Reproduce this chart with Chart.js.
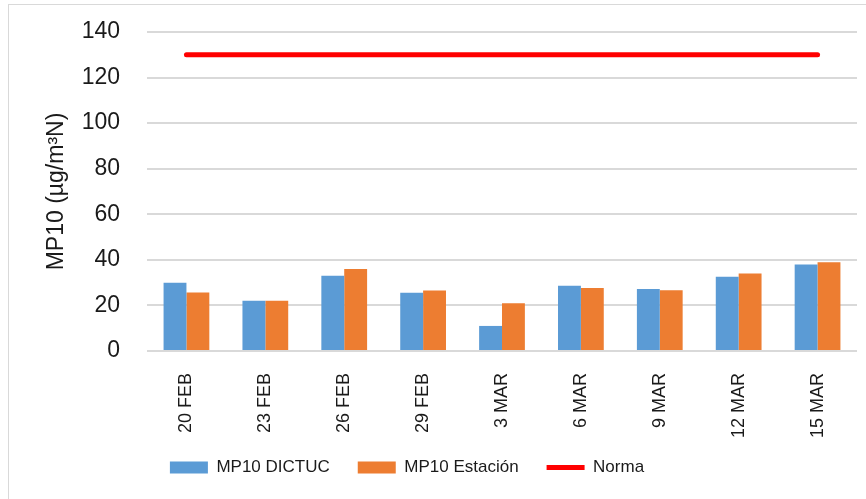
<!DOCTYPE html>
<html lang="es">
<head>
    <meta charset="UTF-8">
    <title>MP10</title>
    <script src="https://cdn.jsdelivr.net/npm/chart.js"></script>
    <style>
        body {
            margin: 0;
            background: #fff;
            font-family: "Liberation Sans", Arial, sans-serif;
        }

        .frame {
            position: absolute;
            left: 8px;
            top: 4px;
            width: 900px;
            height: 520px;
            border: 1px solid #d9d9d9;
        }

        .chart-container {
            position: absolute;
            left: 0;
            top: 0;
            width: 866px;
            height: 499px;
        }
    </style>
</head>
<body>
<div class="frame"></div>
<div class="chart-container">
    <canvas id="chart" width="866" height="499"></canvas>
</div>

<script>
    // Datos
    const fechas = ['20 FEB', '23 FEB', '26 FEB', '29 FEB', '3 MAR', '6 MAR', '9 MAR', '12 MAR', '15 MAR'];
    const mp10Dictuc = [30, 22, 33, 25.6, 11, 28.6, 27.2, 32.6, 38];
    const mp10Estacion = [25.7, 22, 36, 26.6, 21, 27.6, 26.7, 34, 39];
    const norma = [130, 130, 130, 130, 130, 130, 130, 130, 130];

    const FONT = '"Liberation Sans", Arial, sans-serif';
    const TEXT = '#1a1a1a';

    // mueve la leyenda un poco a la izquierda y arriba, como en el original
    const legendShift = {
        id: 'legendShift',
        afterLayout(chart) {
            chart.legend.left -= 41;
            chart.legend.right -= 41;
            chart.legend.top -= 6;
            chart.legend.bottom -= 6;
        }
    };

    const ctx = document.getElementById('chart').getContext('2d');
    new Chart(ctx, {
        type: 'bar',
        data: {
            labels: fechas,
            datasets: [
                {
                    label: 'MP10 DICTUC',
                    data: mp10Dictuc,
                    backgroundColor: '#5B9BD5',
                    borderWidth: 0,
                    pointStyle: 'rect',
                    categoryPercentage: 0.58,
                    barPercentage: 1
                },
                {
                    label: 'MP10 Estación',
                    data: mp10Estacion,
                    backgroundColor: '#ED7D31',
                    borderWidth: 0,
                    pointStyle: 'rect',
                    categoryPercentage: 0.58,
                    barPercentage: 1
                },
                {
                    type: 'line',
                    label: 'Norma',
                    data: norma,
                    borderColor: '#FF0000',
                    backgroundColor: '#FF0000',
                    borderWidth: 5,
                    borderCapStyle: 'round',
                    pointRadius: 0,
                    pointStyle: 'line',
                    fill: false
                }
            ]
        },
        options: {
            responsive: false,
            animation: false,
            layout: {
                padding: {left: 39, right: 9, top: 32, bottom: 7}
            },
            plugins: {
                tooltip: {enabled: false},
                legend: {
                    position: 'bottom',
                    labels: {
                        usePointStyle: true,
                        pointStyleWidth: 38,
                        boxHeight: 12,
                        padding: 28,
                        color: TEXT,
                        font: {family: FONT, size: 17}
                    }
                }
            },
            scales: {
                x: {
                    grid: {display: false},
                    border: {display: false},
                    afterFit(scale) {
                        scale.height = 86;
                    },
                    ticks: {
                        minRotation: 90,
                        maxRotation: 90,
                        autoSkip: false,
                        padding: 14,
                        color: TEXT,
                        font: {family: FONT, size: 18}
                    }
                },
                y: {
                    min: 0,
                    max: 140,
                    border: {display: false},
                    grid: {color: '#d9d9d9', lineWidth: 2, drawTicks: false},
                    afterFit(scale) {
                        scale.width = 108;
                        scale.paddingTop = 14;
                        scale.paddingBottom = 14;
                    },
                    ticks: {
                        stepSize: 20,
                        padding: 27,
                        color: TEXT,
                        font: {family: FONT, size: 23}
                    },
                    title: {
                        display: true,
                        text: 'MP10 (µg/m³N)',
                        color: TEXT,
                        font: {family: FONT, size: 23},
                        padding: {top: 4, bottom: 11}
                    }
                }
            }
        },
        plugins: [legendShift]
    });
</script>
</body>
</html>
